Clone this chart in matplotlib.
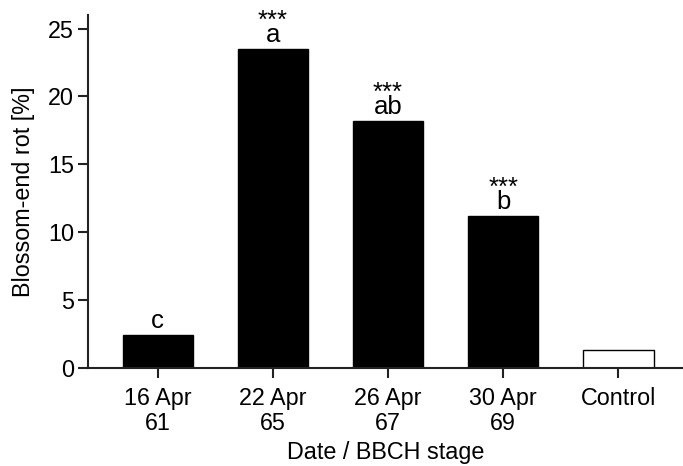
import numpy as np
import matplotlib.pyplot as plt

plt.rcParams['font.family'] = ['Liberation Sans', 'DejaVu Sans']

# data
groups = ['16 Apr\n61', '22 Apr\n65', '26 Apr\n67', '30 Apr\n69', 'Control']
rot = [2.4, 23.5, 18.2, 11.2, 1.3]
letters = ['c', 'a', 'ab', 'b', '']
stars = ['', '***', '***', '***', '']
fills = ['black', 'black', 'black', 'black', 'white']

fig = plt.figure(figsize=(6.83, 4.66), dpi=100)
ax = fig.add_axes([0.1288, 0.2103, 0.8712, 0.7575])

x = np.arange(len(groups))
ax.bar(x, rot, width=0.61, color=fills, edgecolor='black', linewidth=1.0)

## letters with the significance stars stacked above them (one text each)
for xi, v, let, st in zip(x, rot, letters, stars):
    if not let:
        continue
    txt = st + '\n' + let if st else let
    ax.annotate(txt, (xi, v), xytext=(0, 5), textcoords='offset points',
                ha='center', va='baseline', multialignment='center',
                fontsize=18.5, linespacing=0.5)

ax.set_xlim(-0.605, 4.56)
ax.set_ylim(0, 26)
ax.set_yticks([0, 5, 10, 15, 20, 25])
ax.set_xticks(x)
ax.set_xticklabels(groups, linespacing=1.1)

for s in ['top', 'right']:
    ax.spines[s].set_visible(False)
for s in ['left', 'bottom']:
    ax.spines[s].set_linewidth(1.5)
    ax.spines[s].set_color('#222222')

ax.tick_params(axis='both', direction='out', length=7, width=1.5,
               color='#222222', labelsize=16.8)
ax.tick_params(axis='y', pad=3)
ax.tick_params(axis='x', pad=7)

ax.set_ylabel('Blossom-end rot [%]', fontsize=16.8, labelpad=9)
ax.set_xlabel('Date / BBCH stage', fontsize=16.8, labelpad=4)

fig.savefig('out.png', dpi=100)
